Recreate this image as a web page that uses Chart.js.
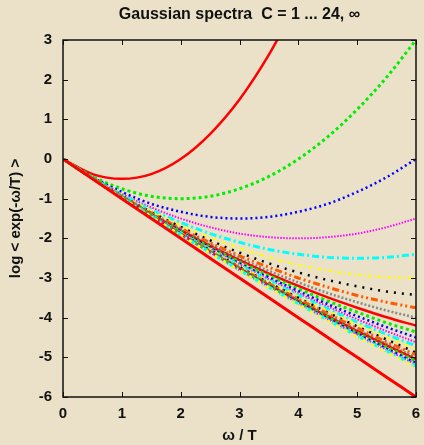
<!DOCTYPE html>
<html>
<head>
<meta charset="utf-8">
<script src="https://cdn.jsdelivr.net/npm/chart.js@4.4.1/dist/chart.umd.min.js"></script>
<style>
  html, body { margin: 0; padding: 0; background: #eae1c8; }
</style>
</head>
<body>
<canvas id="myChart" width="424" height="445"></canvas>
<script>
"use strict";

// omega / T sample points
const xs = [0, 0.5, 1, 1.5, 2, 2.5, 3, 3.5, 4, 4.5, 5, 5.5, 6];

// log <exp(-w/T)>, C = 1 ... 24
const C1  = [0, -0.38, -0.5, -0.38, 0, 0.63, 1.5, 2.63, 4];
const C2  = [0, -0.44, -0.75, -0.94, -1, -0.94, -0.75, -0.44, 0, 0.56, 1.25, 2.06, 3];
const C3  = [0, -0.46, -0.83, -1.13, -1.33, -1.46, -1.5, -1.46, -1.33, -1.13, -0.83, -0.46, 0];
const C4  = [0, -0.47, -0.88, -1.22, -1.5, -1.72, -1.88, -1.97, -2, -1.97, -1.88, -1.72, -1.5];
const C5  = [0, -0.48, -0.9, -1.28, -1.6, -1.88, -2.1, -2.28, -2.4, -2.48, -2.5, -2.48, -2.4];
const C6  = [0, -0.48, -0.92, -1.31, -1.67, -1.98, -2.25, -2.48, -2.67, -2.81, -2.92, -2.98, -3];
const C7  = [0, -0.48, -0.93, -1.34, -1.71, -2.05, -2.36, -2.63, -2.86, -3.05, -3.21, -3.34, -3.43];
const C8  = [0, -0.48, -0.94, -1.36, -1.75, -2.11, -2.44, -2.73, -3, -3.23, -3.44, -3.61, -3.75];
const C9  = [0, -0.49, -0.94, -1.38, -1.78, -2.15, -2.5, -2.82, -3.11, -3.38, -3.61, -3.82, -4];
const C10 = [0, -0.49, -0.95, -1.39, -1.8, -2.19, -2.55, -2.89, -3.2, -3.49, -3.75, -3.99, -4.2];
const C11 = [0, -0.49, -0.95, -1.4, -1.82, -2.22, -2.59, -2.94, -3.27, -3.58, -3.86, -4.13, -4.36];
const C12 = [0, -0.49, -0.96, -1.41, -1.83, -2.24, -2.63, -2.99, -3.33, -3.66, -3.96, -4.24, -4.5];
const C13 = [0, -0.49, -0.96, -1.41, -1.85, -2.26, -2.65, -3.03, -3.38, -3.72, -4.04, -4.34, -4.62];
const C14 = [0, -0.49, -0.96, -1.42, -1.86, -2.28, -2.68, -3.06, -3.43, -3.78, -4.11, -4.42, -4.71];
const C15 = [0, -0.49, -0.97, -1.43, -1.87, -2.29, -2.7, -3.09, -3.47, -3.83, -4.17, -4.49, -4.8];
const C16 = [0, -0.49, -0.97, -1.43, -1.88, -2.3, -2.72, -3.12, -3.5, -3.87, -4.22, -4.55, -4.88];
const C17 = [0, -0.49, -0.97, -1.43, -1.88, -2.32, -2.74, -3.14, -3.53, -3.9, -4.26, -4.61, -4.94];
const C18 = [0, -0.49, -0.97, -1.44, -1.89, -2.33, -2.75, -3.16, -3.56, -3.94, -4.31, -4.66, -5];
const C19 = [0, -0.49, -0.97, -1.44, -1.89, -2.34, -2.76, -3.18, -3.58, -3.97, -4.34, -4.7, -5.05];
const C20 = [0, -0.49, -0.98, -1.44, -1.9, -2.34, -2.78, -3.19, -3.6, -3.99, -4.38, -4.74, -5.1];
const C21 = [0, -0.49, -0.98, -1.45, -1.9, -2.35, -2.79, -3.21, -3.62, -4.02, -4.4, -4.78, -5.14];
const C22 = [0, -0.49, -0.98, -1.45, -1.91, -2.36, -2.8, -3.22, -3.64, -4.04, -4.43, -4.81, -5.18];
const C23 = [0, -0.49, -0.98, -1.45, -1.91, -2.36, -2.8, -3.23, -3.65, -4.06, -4.46, -4.84, -5.22];
const C24 = [0, -0.49, -0.98, -1.45, -1.92, -2.37, -2.81, -3.24, -3.67, -4.08, -4.48, -4.87, -5.25];
const Cinf = [0, -0.5, -1, -1.5, -2, -2.5, -3, -3.5, -4, -4.5, -5, -5.5, -6];

const series = [C1, C2, C3, C4, C5, C6, C7, C8, C9, C10, C11, C12,
                C13, C14, C15, C16, C17, C18, C19, C20, C21, C22, C23, C24, Cinf];
const names  = series.map((s, i) => i < 24 ? "C = " + (i + 1) : "C = \u221e");

const xTicks = [0, 1, 2, 3, 4, 5, 6];
const yTicks = [3, 2, 1, 0, -1, -2, -3, -4, -5, -6];

// gnuplot style line cycle
const colors = ['#ff0000', '#00ee00', '#0000ff', '#ff00ff', '#00ffff',
                '#ffff00', '#000000', '#ff5a00', '#888888'];
const dashes = [[], [3, 3], [2, 3], [1.5, 1.5], [7, 3, 2, 3],
                [3, 3, 1, 3], [2, 6], [7, 3, 2, 3, 2, 3], [2, 2]];
const widths = [2.5, 3, 2.5, 2, 3, 2.5, 2.5, 3, 2.5];

const BG = '#eae1c8';

const frame = {
    id: 'frame',
    beforeDraw(chart) {
        const ctx = chart.ctx;
        ctx.save();
        ctx.fillStyle = BG;
        ctx.fillRect(0, 0, chart.width, chart.height);
        ctx.restore();
    },
    afterDatasetsDraw(chart) {
        const ctx = chart.ctx;
        const a = chart.chartArea;
        const sx = chart.scales.x, sy = chart.scales.y;
        ctx.save();
        ctx.strokeStyle = '#111';
        ctx.lineWidth = 1;
        ctx.beginPath();
        xTicks.forEach(v => {
            const px = Math.round(sx.getPixelForValue(v)) + 0.5;
            ctx.moveTo(px, a.bottom); ctx.lineTo(px, a.bottom - 5);
            ctx.moveTo(px, a.top);    ctx.lineTo(px, a.top + 5);
        });
        yTicks.forEach(v => {
            const py = Math.round(sy.getPixelForValue(v)) + 0.5;
            ctx.moveTo(a.left, py);  ctx.lineTo(a.left + 5, py);
            ctx.moveTo(a.right, py); ctx.lineTo(a.right - 5, py);
        });
        ctx.stroke();
        ctx.lineWidth = 1.5;
        ctx.strokeRect(a.left, a.top, a.right - a.left, a.bottom - a.top);
        ctx.restore();
    }
};

const datasets = series.map((vals, i) => {
    const k = i === 24 ? 0 : i % 9;
    return {
        label: names[i],
        data: vals.map((v, j) => ({ x: xs[j], y: v })),
        borderColor: colors[k],
        borderDash: dashes[k],
        borderWidth: i === 24 ? 3 : widths[k],
        borderCapStyle: 'butt',
        pointRadius: 0,
        cubicInterpolationMode: 'monotone',
        order: series.length - i
    };
});

const family = "'Liberation Sans', Arial, sans-serif";
const tickFont  = { family: family, weight: 'bold', size: 15 };
const titleFont = { family: family, weight: 'bold', size: 16 };

new Chart(document.getElementById('myChart').getContext('2d'), {
    type: 'line',
    data: { datasets: datasets },
    options: {
        responsive: false,
        animation: false,
        devicePixelRatio: 1,
        layout: { padding: { left: 0, right: 8, top: 0, bottom: 0 } },
        plugins: {
            legend: { display: false },
            tooltip: { enabled: false },
            title: {
                display: true,
                fullSize: false,
                text: 'Gaussian spectra  C = 1 ... 24, \u221e',
                color: '#111',
                font: titleFont,
                padding: { top: 5.4, bottom: 15.4 }
            }
        },
        scales: {
            x: {
                type: 'linear',
                min: 0, max: 6,
                afterBuildTicks: s => { s.ticks = xTicks.map(v => ({ value: v })); },
                afterFit: s => { s.height = 48; s.paddingLeft = 0; s.paddingRight = 0; },
                grid: { display: false, drawTicks: false },
                border: { display: false },
                ticks: { color: '#111', font: tickFont, padding: 8, maxRotation: 0 },
                title: { display: true, text: '\u03c9 / T', color: '#111', font: tickFont,
                         padding: { top: 0, bottom: 0 } }
            },
            y: {
                type: 'linear',
                min: -6, max: 3,
                afterBuildTicks: s => { s.ticks = yTicks.map(v => ({ value: v })); },
                afterFit: s => { s.width = 63; s.paddingTop = 0; s.paddingBottom = 0; },
                grid: { display: false, drawTicks: false },
                border: { display: false },
                ticks: { color: '#111', font: tickFont, padding: 11 },
                title: { display: true, text: 'log < exp(-\u03c9/T) >', color: '#111', font: tickFont,
                         padding: { top: 7, bottom: 0 } }
            }
        }
    },
    plugins: [frame]
});
</script>
</body>
</html>
